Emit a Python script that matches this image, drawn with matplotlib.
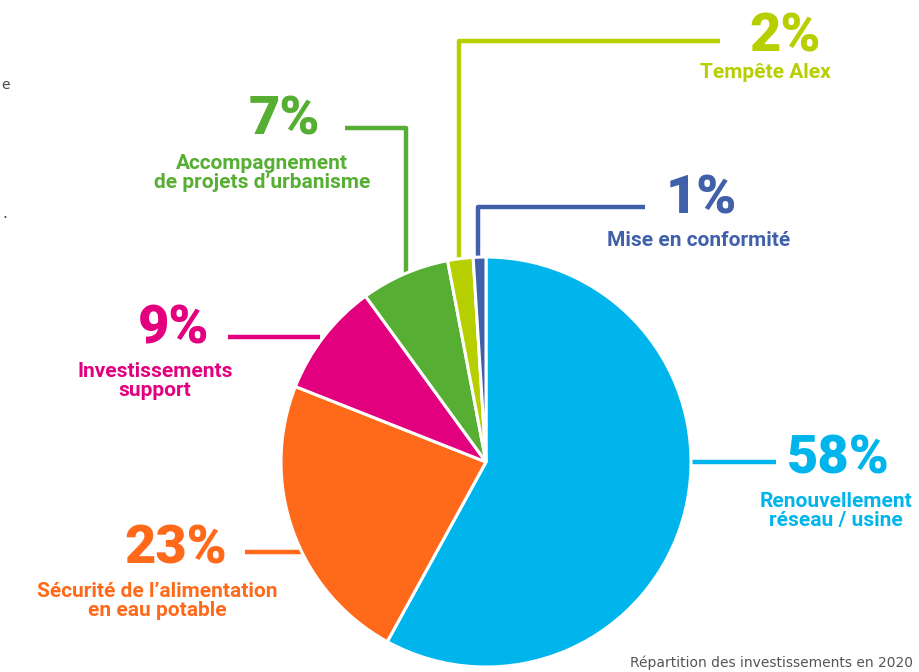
import matplotlib.pyplot as plt
from matplotlib.patches import Wedge

# Data
labels = ["Renouvellement\nréseau / usine",
          "Sécurité de l\u2019alimentation\nen eau potable",
          "Investissements\nsupport",
          "Accompagnement\nde projets d\u2019urbanisme",
          "Tempête Alex",
          "Mise en conformité"]
values = [58, 23, 9, 7, 2, 1]
colors = ["#00b5ec", "#ff6a1a", "#e3007e", "#56ae33", "#b7cf00", "#4060aa"]
caption = "Répartition des investissements en 2020"

W, H = 919, 672
fig = plt.figure(figsize=(W / 100, H / 100), dpi=100)
ax = fig.add_axes([0, 0, 1, 1])
ax.set_xlim(0, W)
ax.set_ylim(H, 0)  # pixel coordinates, y down
ax.set_aspect("equal")
ax.axis("off")

# pie, clockwise from the top (y axis is inverted, so angles grow clockwise)
cx, cy, r = 486, 462, 205
start = -90.0
for v, c in zip(values, colors):
    span = v / sum(values) * 360
    ax.add_patch(Wedge((cx, cy), r, start, start + span, facecolor=c,
                       edgecolor="white", linewidth=2.2, zorder=3))
    start += span

# leader lines
lw = 3.2
leaders = [([692, 776], [462, 462]),
           ([245, 310], [552, 552]),
           ([228, 320], [337, 337]),
           ([345, 406, 406], [128, 128, 280]),
           ([720, 459, 459], [41, 41, 265]),
           ([645, 478, 478], [207, 207, 262])]
for (xs, ys), c in zip(leaders, colors):
    ax.plot(xs, ys, color=c, lw=lw, zorder=2, solid_capstyle="butt")

big = dict(fontfamily="Roboto", fontweight="black", fontsize=39,
           ha="center", va="center")
small = dict(fontfamily="Roboto", fontweight="bold", fontsize=15,
             ha="center", va="center", linespacing=1.0)

pct_pos = [(838, 459), (176, 549), (174, 329), (284, 120), (785, 37), (701, 199)]
lab_pos = [(836, 511), (157, 601), (155, 381), (262, 173), (765, 73), (699, 240)]
for v, c, lab, pp, lp in zip(values, colors, labels, pct_pos, lab_pos):
    ax.text(pp[0], pp[1], f"{v}%", color=c, **big)
    ax.text(lp[0], lp[1], lab, color=c, **small)

ax.text(913, 663, caption, ha="right", va="center", fontsize=10,
        color="#555555", fontfamily="DejaVu Sans")

# fragments of neighbouring text at the left edge
ax.text(1, 85, "e", ha="left", va="center", fontsize=10, color="#444444")
ax.text(2, 213, ".", ha="left", va="center", fontsize=11, color="#444444")

fig.savefig("out.png", dpi=100)
